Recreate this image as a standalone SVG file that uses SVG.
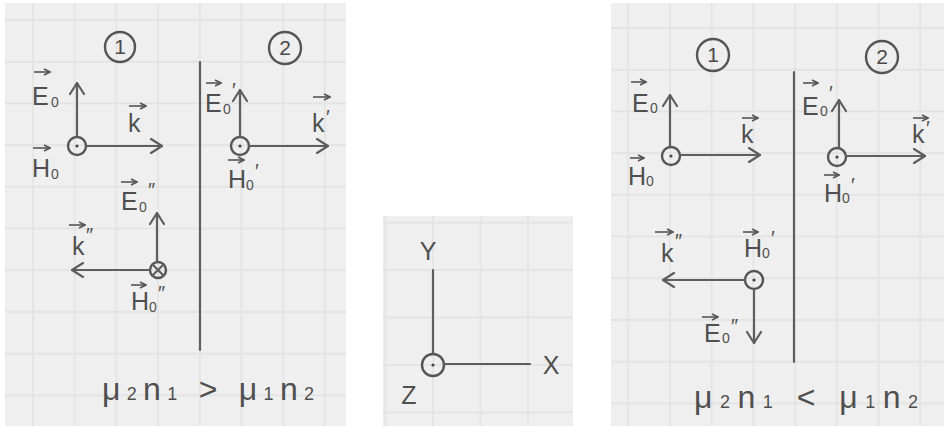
<svg xmlns="http://www.w3.org/2000/svg" width="944" height="426" viewBox="0 0 944 426">
<style>
.ln{stroke:#5e5e5e;stroke-width:2.2;fill:none;stroke-linecap:round}
.ar{marker-end:url(#ah)}
.ring{stroke:#555;stroke-width:2.4;fill:none}
.dot{fill:#444}
.v{stroke:#555;stroke-width:1.6;marker-end:url(#va)}
.t{font-family:"Liberation Sans","DejaVu Sans",Arial,sans-serif;font-size:25px;fill:#4f4f4f}
.s{font-size:14px}
.pr{font-size:20px}
.n{font-family:"Liberation Sans","DejaVu Sans",Arial,sans-serif;font-size:21px;fill:#4a4a4a;text-anchor:middle}
.f{font-family:"Liberation Sans","DejaVu Sans",Arial,sans-serif;font-size:32px;fill:#4f4f4f}
.fs{font-size:18px}
</style>
<defs>
<pattern id="gL" patternUnits="userSpaceOnUse" x="12.15" y="-0.85" width="41.7" height="41.7">
<rect width="41.7" height="41.7" fill="#efefef"/>
<path d="M20.85,0 V41.7 M0,20.85 H41.7" stroke="#e1e1e1" stroke-width="1.3" fill="none"/>
</pattern>
<pattern id="gR" patternUnits="userSpaceOnUse" x="607.45" y="7.15" width="41.7" height="41.7">
<rect width="41.7" height="41.7" fill="#efefef"/>
<path d="M20.85,0 V41.7 M0,20.85 H41.7" stroke="#e1e1e1" stroke-width="1.3" fill="none"/>
</pattern>
<pattern id="gM" patternUnits="userSpaceOnUse" x="409.25" y="246.25" width="47.5" height="47.5">
<rect width="47.5" height="47.5" fill="#efefef"/>
<path d="M23.75,0 V47.5 M0,23.75 H47.5" stroke="#e1e1e1" stroke-width="1.3" fill="none"/>
</pattern>
<marker id="ah" viewBox="0 0 14 16" refX="13" refY="8" markerWidth="14" markerHeight="16" markerUnits="userSpaceOnUse" orient="auto">
<path d="M2,1 L13,8 L2,15" fill="none" stroke="#5e5e5e" stroke-width="2.2" stroke-linecap="round" stroke-linejoin="round"/>
</marker>
<marker id="va" viewBox="0 0 8 8" refX="7" refY="4" markerWidth="8" markerHeight="8" markerUnits="userSpaceOnUse" orient="auto">
<path d="M1,1 L7,4 L1,7" fill="none" stroke="#555" stroke-width="1.6"/>
</marker>
</defs>

<rect width="944" height="426" fill="#ffffff"/>

<!-- paper sheets -->
<rect x="5" y="3" width="341" height="423" fill="url(#gL)"/>
<rect x="383" y="216" width="190" height="210" fill="url(#gM)"/>
<rect x="611" y="3" width="333" height="423" fill="url(#gR)"/>

<!-- ===== Left panel nodes ===== -->
<g id="L-medium1"><circle class="ring" cx="120" cy="47" r="15"/><text class="n" x="120" y="54">1</text></g>
<g id="L-medium2"><circle class="ring" cx="285" cy="48" r="16"/><text class="n" x="285" y="55">2</text></g>
<g id="L-origin-incident"><circle class="ring" cx="77" cy="146" r="9"/><circle class="dot" cx="77" cy="146" r="1.6"/></g>
<g id="L-origin-transmitted"><circle class="ring" cx="240" cy="146" r="9"/><circle class="dot" cx="240" cy="146" r="1.6"/></g>
<g id="L-origin-reflected"><circle class="ring" cx="158" cy="270" r="8"/><path class="ln" d="M152.5,264.5 L163.5,275.5 M163.5,264.5 L152.5,275.5" stroke-width="1.8"/></g>

<g id="L-label-E0"><line class="v" x1="34" y1="72" x2="50" y2="72"/><text class="t" x="32" y="105">E<tspan class="s" x="51" y="107">0</tspan></text></g>
<g id="L-label-k"><line class="v" x1="129" y1="106" x2="146" y2="106"/><text class="t" x="128" y="132">k</text></g>
<g id="L-label-H0"><line class="v" x1="33" y1="148" x2="50" y2="148"/><text class="t" x="32" y="177">H<tspan class="s" x="51" y="179">0</tspan></text></g>
<g id="L-label-E0p"><line class="v" x1="206" y1="83" x2="221" y2="83"/><text class="t" x="205" y="112">E<tspan class="s" x="223" y="114">0</tspan><tspan class="pr" x="232" y="97">′</tspan></text></g>
<g id="L-label-kp"><line class="v" x1="313" y1="97" x2="330" y2="97"/><text class="t" x="312" y="132">k<tspan class="pr" x="326" y="124">′</tspan></text></g>
<g id="L-label-H0p"><line class="v" x1="228" y1="160" x2="244" y2="160"/><text class="t" x="228" y="188">H<tspan class="s" x="246" y="190">0</tspan><tspan class="pr" x="255" y="178">′</tspan></text></g>
<g id="L-label-E0pp"><line class="v" x1="121" y1="182" x2="137" y2="182"/><text class="t" x="121" y="210">E<tspan class="s" x="139" y="212">0</tspan><tspan class="pr" x="148" y="197">″</tspan></text></g>
<g id="L-label-kpp"><line class="v" x1="69" y1="225" x2="85" y2="225"/><text class="t" x="72" y="255">k<tspan class="pr" x="86" y="242">″</tspan></text></g>
<g id="L-label-H0pp"><line class="v" x1="131" y1="285" x2="146" y2="285"/><text class="t" x="131" y="310">H<tspan class="s" x="149" y="312">0</tspan><tspan class="pr" x="158" y="300">″</tspan></text></g>
<g id="L-condition"><text class="f" x="102" y="400" textLength="212" lengthAdjust="spacing">μ<tspan class="fs">2</tspan>n<tspan class="fs">1</tspan> &gt; μ<tspan class="fs">1</tspan>n<tspan class="fs">2</tspan></text></g>

<!-- ===== Middle panel (axes) ===== -->
<g id="M-origin"><circle class="ring" cx="433" cy="365" r="11"/><circle class="dot" cx="433" cy="365" r="1.6"/></g>
<g id="M-label-Y"><text class="t" x="428" y="260" text-anchor="middle">Y</text></g>
<g id="M-label-X"><text class="t" x="551" y="374" text-anchor="middle">X</text></g>
<g id="M-label-Z"><text class="t" x="409" y="404" text-anchor="middle" font-size="22">Z</text></g>

<!-- ===== Right panel nodes ===== -->
<g id="R-medium1"><circle class="ring" cx="713" cy="55" r="16"/><text class="n" x="713" y="62">1</text></g>
<g id="R-medium2"><circle class="ring" cx="882" cy="57" r="16"/><text class="n" x="882" y="64">2</text></g>
<g id="R-origin-incident"><circle class="ring" cx="671" cy="156" r="9"/><circle class="dot" cx="671" cy="156" r="1.6"/></g>
<g id="R-origin-transmitted"><circle class="ring" cx="837" cy="157" r="9"/><circle class="dot" cx="837" cy="157" r="1.6"/></g>
<g id="R-origin-reflected"><circle class="ring" cx="754" cy="280" r="9"/><circle class="dot" cx="754" cy="280" r="1.6"/></g>

<g id="R-label-E0"><line class="v" x1="631" y1="82" x2="646" y2="82"/><text class="t" x="632" y="112">E<tspan class="s" x="650" y="113">0</tspan></text></g>
<g id="R-label-k"><line class="v" x1="742" y1="118" x2="758" y2="118"/><text class="t" x="741" y="143">k</text></g>
<g id="R-label-H0"><line class="v" x1="630" y1="158" x2="644" y2="158"/><text class="t" x="628" y="185">H<tspan class="s" x="646" y="186">0</tspan></text></g>
<g id="R-label-E0p"><line class="v" x1="803" y1="83" x2="818" y2="83"/><text class="t" x="802" y="115">E<tspan class="s" x="820" y="116">0</tspan><tspan class="pr" x="829" y="100">′</tspan></text></g>
<g id="R-label-kp"><line class="v" x1="913" y1="118" x2="928" y2="118"/><text class="t" x="912" y="143">k<tspan class="pr" x="926" y="135">′</tspan></text></g>
<g id="R-label-H0p"><line class="v" x1="824" y1="175" x2="839" y2="175"/><text class="t" x="824" y="202">H<tspan class="s" x="842" y="203">0</tspan><tspan class="pr" x="851" y="192">′</tspan></text></g>
<g id="R-label-kpp"><line class="v" x1="655" y1="232" x2="673" y2="232"/><text class="t" x="661" y="262">k<tspan class="pr" x="675" y="248">″</tspan></text></g>
<g id="R-label-H0p-refl"><line class="v" x1="743" y1="232" x2="758" y2="232"/><text class="t" x="744" y="257">H<tspan class="s" x="762" y="258">0</tspan><tspan class="pr" x="771" y="245">′</tspan></text></g>
<g id="R-label-E0pp"><line class="v" x1="702" y1="317" x2="718" y2="317"/><text class="t" x="704" y="342">E<tspan class="s" x="722" y="343">0</tspan><tspan class="pr" x="731" y="333">″</tspan></text></g>
<g id="R-condition"><text class="f" x="694" y="408" textLength="224" lengthAdjust="spacing">μ<tspan class="fs">2</tspan>n<tspan class="fs">1</tspan> &lt; μ<tspan class="fs">1</tspan>n<tspan class="fs">2</tspan></text></g>

<!-- ===== Connectors ===== -->
<g id="connectors">
<line class="ln" x1="200" y1="62" x2="200" y2="350"/>
<line class="ln ar" x1="77" y1="137" x2="77" y2="83"/>
<line class="ln ar" x1="86" y1="146" x2="162" y2="146"/>
<line class="ln ar" x1="240" y1="137" x2="240" y2="90"/>
<line class="ln ar" x1="249" y1="146" x2="328" y2="146"/>
<line class="ln ar" x1="157" y1="262" x2="157" y2="213"/>
<line class="ln ar" x1="150" y1="270" x2="72" y2="270"/>

<line class="ln" x1="433" y1="270" x2="433" y2="354"/>
<line class="ln" x1="444" y1="364" x2="530" y2="364"/>

<line class="ln" x1="794" y1="72" x2="794" y2="362"/>
<line class="ln ar" x1="670" y1="147" x2="670" y2="95"/>
<line class="ln ar" x1="680" y1="155" x2="760" y2="155"/>
<line class="ln ar" x1="839" y1="148" x2="839" y2="100"/>
<line class="ln ar" x1="846" y1="156" x2="925" y2="156"/>
<line class="ln ar" x1="745" y1="280" x2="663" y2="280"/>
<line class="ln ar" x1="754" y1="289" x2="754" y2="343"/>
</g>
</svg>
